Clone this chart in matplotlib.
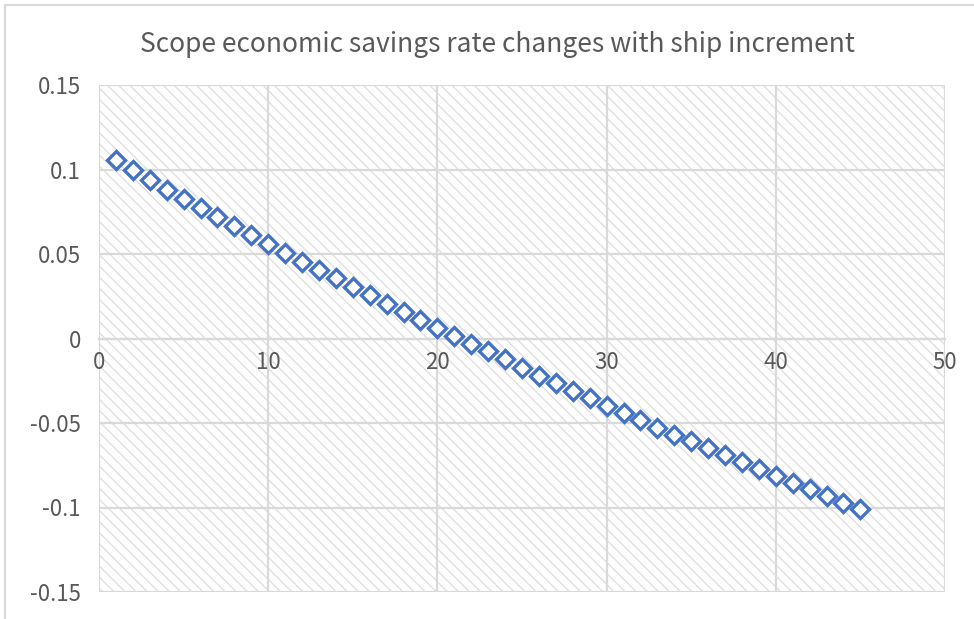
import matplotlib
matplotlib.use("Agg")
import matplotlib.pyplot as plt
from matplotlib.lines import Line2D

ships = list(range(1, 46))
savings_rate = [
    0.1055, 0.0996, 0.0937, 0.0881, 0.0828, 0.0771, 0.0717, 0.0664, 0.0611, 0.0557,
    0.0506, 0.0455, 0.0405, 0.0356, 0.0304, 0.0255, 0.0206, 0.0155, 0.0107, 0.0060,
    0.0012, -0.0030, -0.0073, -0.0123, -0.0173, -0.0220, -0.0264, -0.0308, -0.0353, -0.0397,
    -0.0440, -0.0484, -0.0528, -0.0569, -0.0609, -0.0648, -0.0692, -0.0731, -0.0773, -0.0816,
    -0.0854, -0.0891, -0.0933, -0.0972, -0.1006,
]
x_ticks = [0, 10, 20, 30, 40, 50]
y_ticks = [-0.15, -0.1, -0.05, 0, 0.05, 0.1, 0.15]
y_tick_labels = ["-0.15", "-0.1", "-0.05", "0", "0.05", "0.1", "0.15"]
title = "Scope economic savings rate changes with ship increment"

GRID = "#d9d9d9"
TEXT = "#595959"
BLUE = "#4472C4"
HATCH = "#e0e0e0"

plt.rcParams["font.family"] = ["Noto Sans CJK SC", "DejaVu Sans"]
plt.rcParams["hatch.color"] = HATCH
plt.rcParams["hatch.linewidth"] = 1.0

fig = plt.figure(figsize=(9.74, 6.19), dpi=100)
ax = fig.add_axes([99 / 974, 1 - 592 / 619, (945 - 99) / 974, (592 - 85) / 619])

ax.patch.set_facecolor("white")
ax.patch.set_hatch("\\\\\\")
ax.patch.set_edgecolor(HATCH)
ax.patch.set_linewidth(0)

ax.set_xlim(0, 50)
ax.set_ylim(-0.15, 0.15)
ax.set_xticks(x_ticks)
ax.set_yticks(y_ticks)
ax.set_yticklabels(y_tick_labels)
ax.grid(True, color=GRID, linewidth=1.6, zorder=1)
ax.set_axisbelow(True)

for s in ["top", "right", "left"]:
    ax.spines[s].set_visible(False)
ax.spines["bottom"].set_position(("data", 0))
ax.spines["bottom"].set_color(GRID)
ax.spines["bottom"].set_linewidth(1.6)

ax.tick_params(axis="both", length=0, labelsize=16, labelcolor=TEXT)
ax.tick_params(axis="x", pad=9)
ax.tick_params(axis="y", pad=13)

ax.plot(ships, savings_rate, linestyle="none", marker="D", markersize=9.5,
        markerfacecolor="white", markeredgecolor=BLUE, markeredgewidth=2.4,
        zorder=3, clip_on=False)

fig.text(497 / 974, 1 - 45 / 619, title, ha="center", va="center",
         fontsize=19, color=TEXT)

fig.add_artist(Line2D([5 / 974, 1], [1 - 5 / 619, 1 - 5 / 619],
                      transform=fig.transFigure, color=GRID, linewidth=1.5))
fig.add_artist(Line2D([5 / 974, 5 / 974], [0, 1 - 5 / 619],
                      transform=fig.transFigure, color=GRID, linewidth=1.5))

fig.savefig("out.png", dpi=100)
